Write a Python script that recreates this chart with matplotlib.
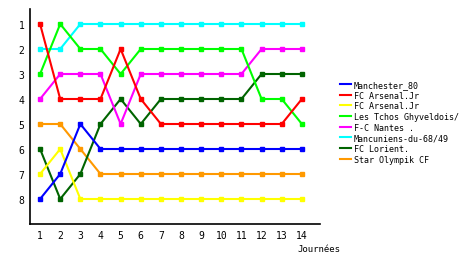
import matplotlib
matplotlib.use("Agg")
import matplotlib.pyplot as plt

rounds = list(range(1, 15))
teams = ["Manchester_80", "FC Arsenal.Jr", "FC Arsenal.Jr", "Les Tchos Ghyveldois/",
         "F-C Nantes .", "Mancuniens-du-68/49", "FC Lorient.", "Star Olympik CF"]
colors = ["#0000ff", "#ff0000", "#ffff00", "#00ff00", "#ff00ff", "#00ffff", "#006400", "#ff9900"]

manchester = [8, 7, 5, 6, 6, 6, 6, 6, 6, 6, 6, 6, 6, 6]
arsenal_1 = [1, 4, 4, 4, 2, 4, 5, 5, 5, 5, 5, 5, 5, 4]
arsenal_2 = [7, 6, 8, 8, 8, 8, 8, 8, 8, 8, 8, 8, 8, 8]
tchos = [3, 1, 2, 2, 3, 2, 2, 2, 2, 2, 2, 4, 4, 5]
nantes = [4, 3, 3, 3, 5, 3, 3, 3, 3, 3, 3, 2, 2, 2]
mancuniens = [2, 2, 1, 1, 1, 1, 1, 1, 1, 1, 1, 1, 1, 1]
lorient = [6, 8, 7, 5, 4, 5, 4, 4, 4, 4, 4, 3, 3, 3]
star = [5, 5, 6, 7, 7, 7, 7, 7, 7, 7, 7, 7, 7, 7]
series = [manchester, arsenal_1, arsenal_2, tchos, nantes, mancuniens, lorient, star]

plt.rcParams['font.family'] = ['DejaVu Sans Mono']

fig = plt.figure(figsize=(4.6, 2.55), dpi=100)
ax = fig.add_axes([30 / 460, 30 / 255, 290 / 460, 215 / 255])

# draw in reverse so the first series sits on top
for name, vals, c in reversed(list(zip(teams, series, colors))):
    ax.plot(rounds, vals, color=c, lw=1.5, marker="s", ms=2.5, label=name)

ax.set_xlim(0.5, 14.9)
ax.set_ylim(9, 0.4)
ax.set_xticks(rounds)
ax.set_yticks(range(1, 9))
ax.tick_params(length=0, labelsize=7, pad=4)
for s in ["top", "right"]:
    ax.spines[s].set_visible(False)
ax.spines["left"].set_linewidth(1.2)
ax.spines["bottom"].set_linewidth(1.2)

fig.text(340 / 460, 1 - 250 / 255, "Journées", ha="right", va="center", fontsize=6.5)

handles, labels = ax.get_legend_handles_labels()
ax.legend(handles[::-1], labels[::-1], loc="upper left", bbox_to_anchor=(340 / 460, 1 - 81 / 255),
          bbox_transform=fig.transFigure, frameon=False, fontsize=6, handlelength=1.3,
          handletextpad=0.35, labelspacing=0.2, borderpad=0, borderaxespad=0)
for h in ax.get_legend().legend_handles:
    h.set_marker("")

fig.savefig("out.png", dpi=100)
